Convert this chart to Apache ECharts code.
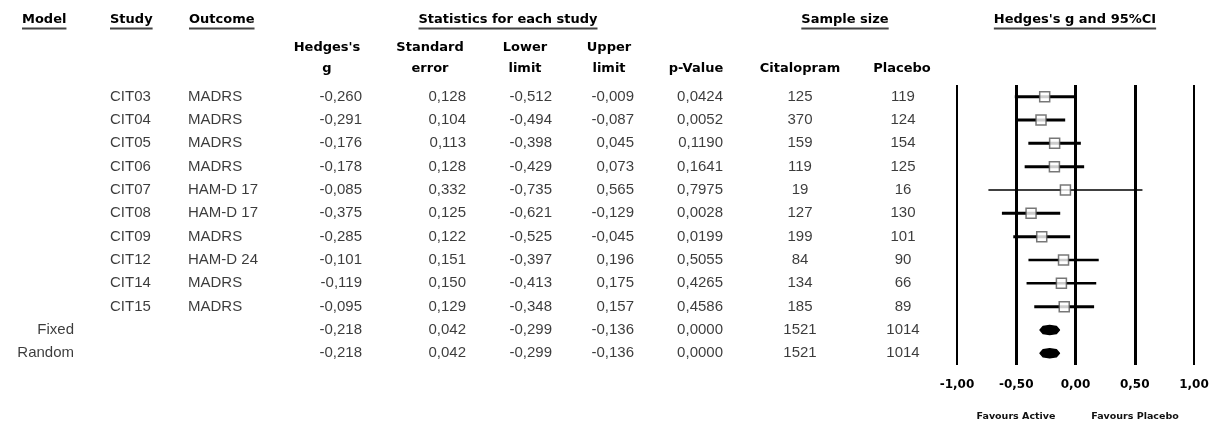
<!DOCTYPE html>
<html>
<head>
<meta charset="utf-8">
<script src="https://cdn.jsdelivr.net/npm/echarts@6/dist/echarts.min.js"></script>
<style>
html,body{margin:0;padding:0;background:#fff;}
#c{width:1215px;height:423px;}
</style>
</head>
<body>
<div id="c"></div>
<script>
// ---------- data ----------
const models      = ['', '', '', '', '', '', '', '', '', '', 'Fixed', 'Random'];
const studies     = ['CIT03','CIT04','CIT05','CIT06','CIT07','CIT08','CIT09','CIT12','CIT14','CIT15','',''];
const outcomes    = ['MADRS','MADRS','MADRS','MADRS','HAM-D 17','HAM-D 17','MADRS','HAM-D 24','MADRS','MADRS','',''];
const hedgesG     = [-0.260,-0.291,-0.176,-0.178,-0.085,-0.375,-0.285,-0.101,-0.119,-0.095,-0.218,-0.218];
const stdErr      = [0.128,0.104,0.113,0.128,0.332,0.125,0.122,0.151,0.150,0.129,0.042,0.042];
const lowerLimit  = [-0.512,-0.494,-0.398,-0.429,-0.735,-0.621,-0.525,-0.397,-0.413,-0.348,-0.299,-0.299];
const upperLimit  = [-0.009,-0.087,0.045,0.073,0.565,-0.129,-0.045,0.196,0.175,0.157,-0.136,-0.136];
const pValue      = [0.0424,0.0052,0.1190,0.1641,0.7975,0.0028,0.0199,0.5055,0.4265,0.4586,0.0000,0.0000];
const nCitalopram = [125,370,159,119,19,127,199,84,134,185,1521,1521];
const nPlacebo    = [119,124,154,125,16,130,101,90,66,89,1014,1014];
const isSummary   = [false,false,false,false,false,false,false,false,false,false,true,true];
const tickValues  = [-1, -0.5, 0, 0.5, 1];
const tickLabels  = ['-1,00','-0,50','0,00','0,50','1,00'];

// ---------- helpers ----------
const fmt = (v, d) => v.toFixed(d).replace('.', ',');
const HEAD_FONT = 'bold 13px "DejaVu Sans"';
const DATA_FAMILY = '"Liberation Sans", Arial, sans-serif';
const nRows = hedgesG.length;

const chart = echarts.init(document.getElementById('c'), null, {renderer: 'canvas'});

// table column definitions (layout only)
const columns = [
  {x: 74,  align: 'right',  text: i => models[i]},
  {x: 110, align: 'left',   text: i => studies[i]},
  {x: 188, align: 'left',   text: i => outcomes[i]},
  {x: 362, align: 'right',  text: i => fmt(hedgesG[i], 3)},
  {x: 466, align: 'right',  text: i => fmt(stdErr[i], 3)},
  {x: 552, align: 'right',  text: i => fmt(lowerLimit[i], 3)},
  {x: 634, align: 'right',  text: i => fmt(upperLimit[i], 3)},
  {x: 723, align: 'right',  text: i => fmt(pValue[i], 4)},
  {x: 800, align: 'center', text: i => String(nCitalopram[i])},
  {x: 903, align: 'center', text: i => String(nPlacebo[i])}
];

const tableSeries = columns.map(col => ({
  type: 'scatter',
  xAxisIndex: 1, yAxisIndex: 1,
  symbolSize: 0,
  silent: true,
  data: hedgesG.map((_, i) => [col.x, i, col.text(i)]),
  encode: {x: 0, y: 1},
  label: {
    show: true, position: 'inside', align: col.align, verticalAlign: 'middle',
    formatter: p => p.value[2],
    fontFamily: DATA_FAMILY, fontSize: 15, color: '#0a0a0a'
  }
}));

// header texts (layout)
const measure = (txt, font) => {
  const cv = document.createElement('canvas').getContext('2d');
  cv.font = font; return cv.measureText(txt).width;
};
const headers1 = [
  {t: 'Model', x: 22, align: 'left'},
  {t: 'Study', x: 110, align: 'left'},
  {t: 'Outcome', x: 189, align: 'left'},
  {t: 'Statistics for each study', x: 508, align: 'center'},
  {t: 'Sample size', x: 845, align: 'center'},
  {t: "Hedges's g and 95%CI", x: 1075, align: 'center'}
];
const headers2 = [
  {t: "Hedges's", x: 327, y: 48}, {t: 'g', x: 327, y: 69},
  {t: 'Standard', x: 430, y: 48}, {t: 'error', x: 430, y: 69},
  {t: 'Lower', x: 525, y: 48}, {t: 'limit', x: 525, y: 69},
  {t: 'Upper', x: 609, y: 48}, {t: 'limit', x: 609, y: 69},
  {t: 'p-Value', x: 696, y: 69},
  {t: 'Citalopram', x: 800, y: 69},
  {t: 'Placebo', x: 902, y: 69}
];
const graphics = [];
headers1.forEach(h => {
  graphics.push({type: 'text', x: h.x, y: 20, silent: true,
    style: {text: h.t, font: HEAD_FONT, fill: '#000', align: h.align, verticalAlign: 'middle'}});
  const w = measure(h.t, HEAD_FONT);
  const x0 = h.align === 'left' ? h.x : h.x - w / 2;
  graphics.push({type: 'line', silent: true,
    shape: {x1: x0, y1: 28.5, x2: x0 + w, y2: 28.5},
    style: {stroke: '#444', lineWidth: 2}});
});
headers2.forEach(h => {
  graphics.push({type: 'text', x: h.x, y: h.y, silent: true,
    style: {text: h.t, font: HEAD_FONT, fill: '#000', align: 'center', verticalAlign: 'middle'}});
});
graphics.push({type: 'text', x: 1016, y: 417, silent: true,
  style: {text: 'Favours Active', font: 'bold 9.5px "DejaVu Sans"', fill: '#111', align: 'center', verticalAlign: 'middle'}});
graphics.push({type: 'text', x: 1135, y: 417, silent: true,
  style: {text: 'Favours Placebo', font: 'bold 9.5px "DejaVu Sans"', fill: '#111', align: 'center', verticalAlign: 'middle'}});

const studyIdx = hedgesG.map((_, i) => i).filter(i => !isSummary[i]);
const sumIdx = hedgesG.map((_, i) => i).filter(i => isSummary[i]);

const option = {
  animation: false,
  backgroundColor: '#fff',
  grid: [
    {left: 957, right: 21, top: 85, bottom: 58},
    {left: 0, right: 0, top: 85, bottom: 58}
  ],
  xAxis: [
    {type: 'value', gridIndex: 0, min: -1, max: 1, interval: 0.5,
     axisLine: {show: false}, axisTick: {show: false}, splitLine: {show: false},
     axisLabel: {show: true, margin: 14, fontFamily: 'DejaVu Sans', fontWeight: 'bold', fontSize: 12, color: '#000',
       formatter: v => { const k = tickValues.findIndex(t => Math.abs(t - v) < 1e-9); return k >= 0 ? tickLabels[k] : ''; }}},
    {type: 'value', gridIndex: 1, min: 0, max: 1215, show: false}
  ],
  yAxis: [
    {type: 'value', gridIndex: 0, min: -0.5, max: nRows - 0.5, inverse: true, show: false},
    {type: 'value', gridIndex: 1, min: -0.5, max: nRows - 0.5, inverse: true, show: false}
  ],
  graphic: graphics,
  series: [
    // vertical reference lines at the ticks
    {type: 'line', xAxisIndex: 0, yAxisIndex: 0, data: [], z: 1, silent: true,
     markLine: {silent: true, symbol: 'none', label: {show: false},
       data: tickValues.map(v => ({xAxis: v, lineStyle: {color: '#000', type: 'solid', width: Math.abs(v) === 1 ? 2 : 3}}))}},
    // confidence intervals
    {type: 'custom', xAxisIndex: 0, yAxisIndex: 0, z: 2, silent: true,
     data: studyIdx.map(i => [lowerLimit[i], upperLimit[i], i, stdErr[i]]),
     renderItem: (params, api) => {
       const a = api.coord([api.value(0), api.value(2)]);
       const b = api.coord([api.value(1), api.value(2)]);
       const w = api.value(3) > 0.3 ? 1.5 : (api.value(3) > 0.14 ? 2.5 : 3);
       return {type: 'line', shape: {x1: a[0], y1: a[1], x2: b[0], y2: b[1]},
               style: {stroke: '#000', lineWidth: w}};
     }},
    // point estimates
    {type: 'scatter', xAxisIndex: 0, yAxisIndex: 0, z: 3, silent: true,
     symbol: 'rect', symbolSize: 10,
     data: studyIdx.map(i => [hedgesG[i], i]),
     itemStyle: {color: '#fff', borderColor: '#555', borderWidth: 1.5}},
    // summary diamonds
    {type: 'custom', xAxisIndex: 0, yAxisIndex: 0, z: 3, silent: true,
     data: sumIdx.map(i => [lowerLimit[i], hedgesG[i], upperLimit[i], i]),
     renderItem: (params, api) => {
       const y = api.value(3);
       const l = api.coord([api.value(0), y]);
       const m = api.coord([api.value(1), y]);
       const r = api.coord([api.value(2), y]);
       const h = 4.5;
       return {type: 'polygon',
         shape: {points: [[l[0], l[1]], [l[0] + 3, l[1] - h + 1], [m[0], m[1] - h], [r[0] - 3, r[1] - h + 1],
                          [r[0], r[1]], [r[0] - 3, r[1] + h - 1], [m[0], m[1] + h], [l[0] + 3, l[1] + h - 1]]},
         style: {fill: '#000', stroke: '#000', lineWidth: 1.5, lineJoin: 'round'}};
     }}
  ].concat(tableSeries)
};
chart.setOption(option);
</script>
</body>
</html>
